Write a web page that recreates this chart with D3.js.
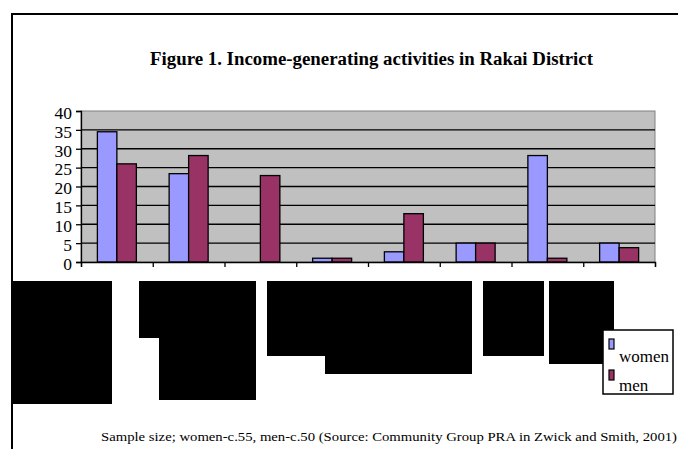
<!DOCTYPE html>
<html>
<head>
<meta charset="utf-8">
<script src="https://cdn.jsdelivr.net/npm/d3@7"></script>
<style>
  body { margin: 0; background: #fff; }
  text { font-family: "Liberation Serif", "Times New Roman", serif; }
</style>
</head>
<body>
<div id="chart"></div>
<script>
// category labels are blacked out in the source, so only keys are kept
const categories = ['c1', 'c2', 'c3', 'c4', 'c5', 'c6', 'c7', 'c8'];
const seriesNames = ['women', 'men'];
const women = [34.5, 23.4, 0, 1, 2.7, 5, 28.2, 5];
const men = [26, 28.2, 22.9, 1, 12.8, 5, 1, 3.8];
const yTicks = [0, 5, 10, 15, 20, 25, 30, 35, 40];

const titleText = 'Figure 1. Income-generating activities in Rakai District';
const footText = 'Sample size; women-c.55, men-c.50 (Source: Community Group PRA in Zwick and Smith, 2001)';

const colors = { women: '#9999FF', men: '#993366' };

// black boxes covering the category labels in the picture
const redactBoxes = [
  [13, 281, 99, 123],
  [139, 281, 117, 57],
  [159, 281, 97, 119],
  [267, 281, 205, 75],
  [325, 281, 147, 93],
  [483, 281, 61, 75],
  [549, 281, 65, 83]
];

const W = 678, H = 449;
const plot = { left: 81, right: 655, top: 111, bottom: 262 };

const svg = d3.select('#chart')
  .append('svg')
    .attr('width', W)
    .attr('height', H);

svg.append('rect').attr('width', W).attr('height', H).attr('fill', '#fff');

// outer chart border (right/bottom edges lie outside the picture)
svg.append('path')
  .attr('d', `M12,${H} L12,14 L${W},14`)
  .attr('fill', 'none')
  .attr('stroke', '#000')
  .attr('stroke-width', 2);

// title
svg.append('text')
  .attr('x', 150)
  .attr('y', 65)
  .attr('font-size', 18)
  .attr('font-weight', 'bold')
  .attr('textLength', 443)
  .attr('lengthAdjust', 'spacingAndGlyphs')
  .text(titleText);

// scales
const x0 = d3.scaleBand()
  .domain(categories)
  .range([plot.left, plot.right]);

const x1 = d3.scaleBand()
  .domain(seriesNames)
  .range([0, x0.bandwidth()])
  .paddingOuter(0.84);

const y = d3.scaleLinear()
  .domain([0, 40])
  .range([plot.bottom, plot.top]);

// plot background
svg.append('rect')
  .attr('x', plot.left)
  .attr('y', plot.top)
  .attr('width', plot.right - plot.left)
  .attr('height', plot.bottom - plot.top)
  .attr('fill', '#C0C0C0')
  .attr('stroke', '#808080')
  .attr('stroke-width', 1);

// gridlines
svg.append('g')
  .selectAll('line')
  .data(yTicks.filter(d => d > 0 && d < 40))
  .join('line')
    .attr('x1', plot.left)
    .attr('x2', plot.right)
    .attr('y1', d => y(d))
    .attr('y2', d => y(d))
    .attr('stroke', '#000')
    .attr('stroke-width', 1.3);

// bars
const rows = categories.map((c, i) => ({ cat: c, women: women[i], men: men[i] }));

svg.append('g')
  .selectAll('g')
  .data(rows)
  .join('g')
    .attr('transform', d => `translate(${x0(d.cat)},0)`)
  .selectAll('rect')
  .data(d => seriesNames.map(k => ({ key: k, value: d[k] })).filter(d => d.value > 0))
  .join('rect')
    .attr('x', d => x1(d.key))
    .attr('y', d => y(d.value))
    .attr('width', x1.bandwidth())
    .attr('height', d => y(0) - y(d.value))
    .attr('fill', d => colors[d.key])
    .attr('stroke', '#000')
    .attr('stroke-width', 1.3);

// Y axis
const yAxis = svg.append('g')
  .attr('transform', `translate(${plot.left},0)`)
  .call(d3.axisLeft(y).tickValues(yTicks).tickSize(5).tickPadding(4));
yAxis.select('.domain').attr('stroke', '#000').attr('stroke-width', 1.3);
yAxis.selectAll('.tick line').attr('stroke', '#000').attr('stroke-width', 1.3);
yAxis.selectAll('.tick text')
  .attr('font-family', '"Liberation Serif", serif')
  .attr('font-size', 17.5)
  .attr('fill', '#000')
  .attr('dy', '0.42em');

// X axis with ticks on category boundaries
const xb = d3.scaleLinear().domain([0, categories.length]).range([plot.left, plot.right]);
const xAxis = svg.append('g')
  .attr('transform', `translate(0,${plot.bottom})`)
  .call(d3.axisBottom(xb).tickValues(d3.range(categories.length + 1)).tickSize(5).tickFormat(''));
xAxis.select('.domain').attr('stroke', '#000').attr('stroke-width', 1.3);
xAxis.selectAll('.tick line').attr('stroke', '#000').attr('stroke-width', 1.3);

// redaction boxes over labels
svg.append('g')
  .selectAll('rect')
  .data(redactBoxes)
  .join('rect')
    .attr('x', d => d[0])
    .attr('y', d => d[1])
    .attr('width', d => d[2])
    .attr('height', d => d[3])
    .attr('fill', '#000');

// legend
const legend = svg.append('g').attr('transform', 'translate(603,330)');
legend.append('rect')
  .attr('width', 70)
  .attr('height', 64)
  .attr('fill', '#fff')
  .attr('stroke', '#000')
  .attr('stroke-width', 1.5);

seriesNames.forEach((k, i) => {
  legend.append('rect')
    .attr('x', 6)
    .attr('y', 9 + i * 31)
    .attr('width', 5)
    .attr('height', 10)
    .attr('fill', colors[k])
    .attr('stroke', '#000')
    .attr('stroke-width', 1.2);
  legend.append('text')
    .attr('x', 16)
    .attr('y', 32 + i * 29)
    .attr('font-size', 17)
    .attr('fill', '#000')
    .text(k);
});

// footnote
svg.append('text')
  .attr('x', 101)
  .attr('y', 441)
  .attr('font-size', 13)
  .attr('textLength', 576)
  .attr('lengthAdjust', 'spacingAndGlyphs')
  .text(footText);
</script>
</body>
</html>
